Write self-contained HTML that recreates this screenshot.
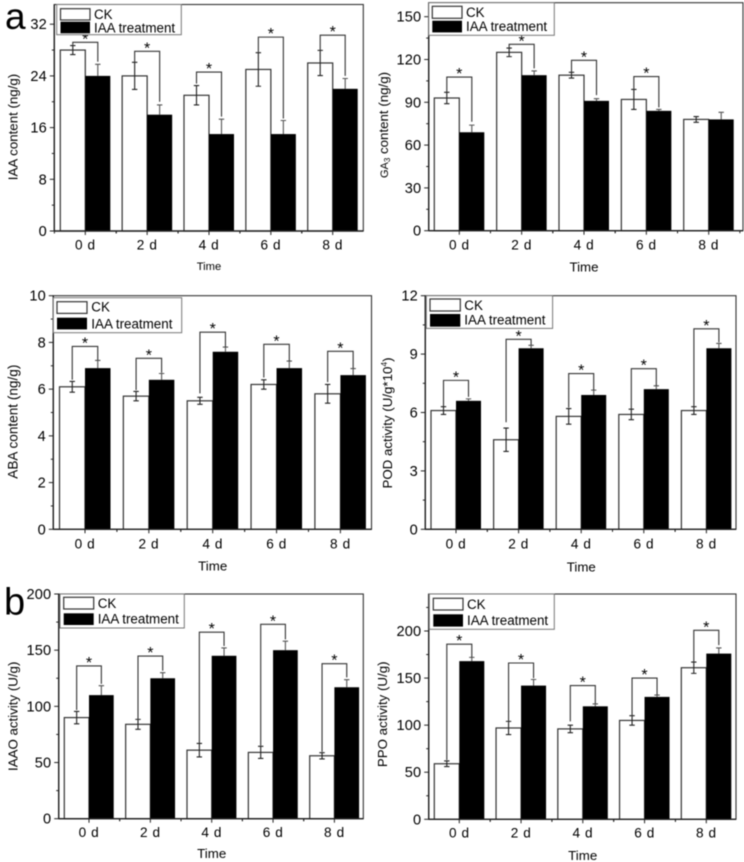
<!DOCTYPE html>
<html lang="en">
<head>
<meta charset="utf-8">
<title>Hormone content and enzyme activity charts</title>
<style>
html,body{margin:0;padding:0;background:#fff;}
svg{display:block;filter:blur(0.4px);}
text{font-family:"Liberation Sans",sans-serif;fill:#000;}
.tick{font-size:14.6px;letter-spacing:.1px;}
.cat{font-size:13.6px;letter-spacing:.6px;}
.leg{font-size:13.4px;}
.ttl{font-size:13.3px;}
.star{font-size:16px;}
</style>
</head>
<body>
<svg id="figure" width="744" height="862" viewBox="0 0 744 862" xmlns="http://www.w3.org/2000/svg">
<rect x="0" y="0" width="744" height="862" fill="#fff"/>

<g id="panel-iaa">
  <g class="marks"></g>
  <g>
    <rect x="56.7" y="4.5" width="124.6" height="30.2" fill="#fff" stroke="#777" stroke-width="1"/>
    <rect x="60.5" y="8.7" width="29.5" height="11.3" fill="#fff" stroke="#333" stroke-width="1.2"/>
    <rect x="60.5" y="21.7" width="29.5" height="11.6" fill="#000"/>
    <text class="leg" x="94" y="19">CK</text>
    <text class="leg" x="94" y="32.5">IAA treatment</text>
  </g>
  <text class="ttl" transform="translate(17.5,127) rotate(-90)" text-anchor="middle">IAA content (ng/g)</text>
  <text class="ttl" style="font-size:11.2px" x="209" y="270" text-anchor="middle">Time</text>
</g>

<g id="panel-ga">
  <g class="marks"></g>
  <g>
    <rect x="428.7" y="2.7" width="125.6" height="32.6" fill="#fff" stroke="#777" stroke-width="1"/>
    <rect x="432.3" y="6.3" width="29.7" height="12" fill="#fff" stroke="#333" stroke-width="1.2"/>
    <rect x="432.3" y="20.7" width="29.7" height="11.7" fill="#000"/>
    <text class="leg" x="466" y="17">CK</text>
    <text class="leg" x="466" y="31">IAA treatment</text>
  </g>
  <text class="ttl" transform="translate(388,125) rotate(-90)" text-anchor="middle"><tspan font-size="11">GA</tspan><tspan font-size="8" dy="2">3</tspan><tspan dy="-2"> content (ng/g)</tspan></text>
  <text class="ttl" x="584" y="271.7" text-anchor="middle">Time</text>
</g>

<g id="panel-aba">
  <g class="marks"></g>
  <g>
    <rect x="53.3" y="297.7" width="128.4" height="35" fill="#fff" stroke="#777" stroke-width="1"/>
    <rect x="57" y="301.7" width="30" height="11.7" fill="#fff" stroke="#333" stroke-width="1.2"/>
    <rect x="57" y="317.7" width="30" height="11.7" fill="#000"/>
    <text class="leg" x="91.3" y="311.7">CK</text>
    <text class="leg" x="91.3" y="328.3">IAA treatment</text>
  </g>
  <text class="ttl" style="font-size:13.6px" transform="translate(17.5,421.7) rotate(-90)" text-anchor="middle">ABA content (ng/g)</text>
  <text class="ttl" x="212.7" y="570.7" text-anchor="middle">Time</text>
</g>

<g id="panel-pod">
  <g class="marks"></g>
  <g>
    <rect x="426.3" y="295.7" width="126.3" height="32.7" fill="#fff" stroke="#777" stroke-width="1"/>
    <rect x="430" y="299" width="30.3" height="12" fill="#fff" stroke="#333" stroke-width="1.2"/>
    <rect x="430" y="314" width="30.3" height="12.7" fill="#000"/>
    <text class="leg" x="464.3" y="310">CK</text>
    <text class="leg" x="464.3" y="324.7">IAA treatment</text>
  </g>
  <text class="ttl" transform="translate(392,423) rotate(-90)" text-anchor="middle">POD activity (U/g*10<tspan font-size="8.5" dy="-5">4</tspan><tspan dy="5">)</tspan></text>
  <text class="ttl" x="581.3" y="571.7" text-anchor="middle">Time</text>
</g>

<g id="panel-iaao">
  <g class="marks"></g>
  <g>
    <rect x="60" y="594" width="124.3" height="34" fill="#fff" stroke="#777" stroke-width="1"/>
    <rect x="63.7" y="597.3" width="30" height="11.7" fill="#fff" stroke="#333" stroke-width="1.2"/>
    <rect x="63.7" y="613.3" width="30" height="11.7" fill="#000"/>
    <text class="leg" x="97.7" y="608">CK</text>
    <text class="leg" x="97.7" y="623.7">IAA treatment</text>
  </g>
  <text class="ttl" transform="translate(17.5,716.3) rotate(-90)" text-anchor="middle">IAAO activity (U/g)</text>
  <text class="ttl" x="211.7" y="858" text-anchor="middle">Time</text>
</g>

<g id="panel-ppo">
  <g class="marks"></g>
  <g>
    <rect x="429.3" y="594" width="125" height="35.3" fill="#fff" stroke="#777" stroke-width="1"/>
    <rect x="433.3" y="598.3" width="29.7" height="11.7" fill="#fff" stroke="#333" stroke-width="1.2"/>
    <rect x="433.3" y="614.3" width="29.7" height="12.3" fill="#000"/>
    <text class="leg" x="467" y="609">CK</text>
    <text class="leg" x="467" y="625">IAA treatment</text>
  </g>
  <text class="ttl" transform="translate(387,714.3) rotate(-90)" text-anchor="middle">PPO activity (U/g)</text>
  <text class="ttl" x="582.7" y="860" text-anchor="middle">Time</text>
</g>

<text x="5" y="29" style="font-size:37px;fill:#000">a</text>
<text x="4" y="614.5" style="font-size:38px;fill:#000">b</text>
</svg>

<script>
// Shared category labels
const timeLabels = ['0 d', '2 d', '4 d', '6 d', '8 d'];

// IAA content (ng/g)
const iaaTicks = [0, 8, 16, 24, 32];
const iaaCK = [28, 24, 21, 25, 26];
const iaaTreated = [24, 18, 15, 15, 22];
const iaaCKErr = [0.7, 2.1, 1.5, 2.6, 1.95];
const iaaTreatedErr = [1.8, 1.5, 2.3, 2.1, 1.6];
const iaaBracketTop = [29.2, 27.8, 24.6, 30, 30.3];
const iaaBracketLeft = [28.8, 26.1, 22.8, 27.7, 28];
const iaaBracketRight = [26.2, 20, 17.7, 17.4, 24];

// GA3 content (ng/g)
const gaTicks = [0, 30, 60, 90, 120, 150];
const gaCK = [93, 125, 109, 92, 78];
const gaTreated = [69, 109, 91, 84, 78];
const gaCKErr = [4, 3, 2, 7, 2];
const gaTreatedErr = [5, 3, 1.5, 1, 5];
const gaBracketTop = [107.7, 130.6, 119.4, 108, null];
const gaBracketLeft = [97, 128, 111, 99, null];
const gaBracketRight = [76.4, 113.8, 95, 86.4, null];

// ABA content (ng/g)
const abaTicks = [0, 2, 4, 6, 8, 10];
const abaCK = [6.1, 5.7, 5.5, 6.2, 5.8];
const abaTreated = [6.9, 6.4, 7.6, 6.9, 6.6];
const abaCKErr = [0.23, 0.2, 0.15, 0.2, 0.4];
const abaTreatedErr = [0.33, 0.27, 0.2, 0.3, 0.28];
const abaBracketTop = [7.83, 7.32, 8.44, 7.92, 7.62];
const abaBracketLeft = [6.4, 5.96, 5.82, 6.5, 6.3];
const abaBracketRight = [7.25, 6.7, 7.8, 7.2, 6.9];

// POD activity (U/g*10^4)
const podTicks = [0, 3, 6, 9, 12];
const podCK = [6.1, 4.6, 5.8, 5.9, 6.1];
const podTreated = [6.6, 9.3, 6.9, 7.2, 9.3];
const podCKErr = [0.2, 0.6, 0.4, 0.27, 0.2];
const podTreatedErr = [0.1, 0.15, 0.25, 0.17, 0.25];
const podBracketTop = [7.65, 9.76, 8.0, 8.25, 10.3];
const podBracketLeft = [6.3, 5.5, 6.25, 6.18, 6.27];
const podBracketRight = [6.8, 9.47, 7.14, 7.38, 9.6];

// IAAO activity (U/g)
const iaaoTicks = [0, 50, 100, 150, 200];
const iaaoCK = [90, 84, 61, 59, 56];
const iaaoTreated = [110, 125, 145, 150, 117];
const iaaoCKErr = [5.5, 4.4, 6, 5.4, 2.8];
const iaaoTreatedErr = [8.4, 5, 7, 8, 6.7];
const iaaoBracketTop = [136, 144.8, 166, 173, 138];
const iaaoBracketLeft = [96.7, 88, 67, 65, 59.6];
const iaaoBracketRight = [120, 131.7, 153.7, 159.6, 125.8];

// PPO activity (U/g)
const ppoTicks = [0, 50, 100, 150, 200];
const ppoCK = [59, 97, 96, 105, 161];
const ppoTreated = [168, 142, 120, 130, 176];
const ppoCKErr = [3, 7, 4, 5, 6];
const ppoTreatedErr = [4, 6.5, 2.5, 2, 6];
const ppoBracketTop = [186, 166, 142, 150, 200.7];
const ppoBracketLeft = [63, 102, 104, 108, 167];
const ppoBracketRight = [172, 150, 123, 132, 185];

const NS = 'http://www.w3.org/2000/svg';

function make(parent, tag, attrs, text) {
  const el = document.createElementNS(NS, tag);
  for (const k in attrs) el.setAttribute(k, attrs[k]);
  if (text !== undefined) el.textContent = text;
  parent.appendChild(el);
  return el;
}

function drawPanel(id, frame, ticks, ck, treated, ckErr, treatedErr, bTop, bLeft, bRight) {
  const g = document.querySelector('#' + id + ' .marks');
  const xPos = i => frame.firstX + i * frame.step;
  const yPos = v => frame.bottom - v * (frame.bottom - frame.top) / frame.yMax;
  const ink = '#222';

  const box = make(g, 'rect', {x: frame.left, y: frame.top, width: frame.right - frame.left, height: frame.bottom - frame.top, fill: 'none', stroke: '#333', 'stroke-width': 1.1});
  
  

  // CK bars, with error bars showing on both sides of the bar top
  ck.forEach((v, i) => {
    const bar = make(g, 'rect', {x: xPos(i) - frame.bar, y: yPos(v), width: frame.bar, height: frame.bottom - yPos(v), fill: '#fff', stroke: '#333', 'stroke-width': 1.2});
    
    
    const cx = xPos(i) - frame.bar / 2;
    const e = ckErr[i];
    const d = 'M' + cx + ' ' + yPos(v - e) + 'V' + yPos(v + e) +
      'M' + (cx - 2.7) + ' ' + yPos(v + e) + 'h5.4' +
      'M' + (cx - 2.7) + ' ' + yPos(v - e) + 'h5.4';
    const p = make(g, 'path', {d: d, fill: 'none', stroke: ink, 'stroke-width': 1.1});
    
    
  });

  // Treated bars; the lower half of each error bar is lost in the solid black fill
  treated.forEach((v, i) => {
    const cx = xPos(i) + frame.bar / 2;
    const e = treatedErr[i];
    const d = 'M' + cx + ' ' + yPos(v) + 'V' + yPos(v + e) +
      'M' + (cx - 2.7) + ' ' + yPos(v + e) + 'h5.4';
    const p = make(g, 'path', {d: d, fill: 'none', stroke: '#555', 'stroke-width': 1.1});
    
    
    const bar = make(g, 'rect', {x: xPos(i), y: yPos(v), width: frame.bar, height: frame.bottom - yPos(v), fill: '#000'});
    
    
  });

  // significance brackets
  bTop.forEach((t, i) => {
    if (t === null) return;
    const xl = xPos(i) - frame.bar / 2;
    const xr = xPos(i) + frame.bar / 2;
    const d = 'M' + xl + ' ' + yPos(bLeft[i]) + 'V' + yPos(t) + 'H' + xr + 'V' + yPos(bRight[i]);
    const p = make(g, 'path', {d: d, fill: 'none', stroke: '#333', 'stroke-width': 1.1});
    
    
    const s = make(g, 'text', {class: 'star', x: xPos(i), y: yPos(t) + 2, 'text-anchor': 'middle'}, '*');
    
    
  });

  // axes
  const yAxis = make(g, 'line', {x1: frame.left, x2: frame.left, y1: frame.top, y2: frame.bottom, stroke: ink, 'stroke-width': 1.4});
  
  
  const xAxis = make(g, 'line', {x1: frame.left, x2: frame.right, y1: frame.bottom, y2: frame.bottom, stroke: ink, 'stroke-width': 1.4});
  
  

  // y ticks
  const major = ticks[1] - ticks[0];
  for (let v = 0; v <= frame.yMax + 1e-6; v += major / 2) {
    const isMajor = Math.abs(v / major - Math.round(v / major)) < 1e-6;
    const t = make(g, 'line', {x1: frame.left - (isMajor ? 4.5 : 2.5), x2: frame.left, y1: yPos(v), y2: yPos(v), stroke: ink, 'stroke-width': 1});
    
    
  }
  ticks.forEach(v => {
    const t = make(g, 'text', {class: 'tick', x: frame.left - 7.5, y: yPos(v) + 5, 'text-anchor': 'end'}, String(v));
    
    
  });

  // x ticks
  timeLabels.forEach((label, i) => {
    const t = make(g, 'line', {x1: xPos(i), x2: xPos(i), y1: frame.bottom, y2: frame.bottom + 4, stroke: ink, 'stroke-width': 1});
    
    
    [-0.5, 0.5].forEach(off => {
      const mx = xPos(i) + off * frame.step;
      if (mx <= frame.left || mx >= frame.right) return;
      const m = make(g, 'line', {x1: mx, x2: mx, y1: frame.bottom, y2: frame.bottom + 2.5, stroke: ink, 'stroke-width': 1});
      
      
    });
    const l = make(g, 'text', {class: 'cat', x: xPos(i), y: frame.labelY, 'text-anchor': 'middle'}, label);
    
    
  });
}

drawPanel('panel-iaa', {left: 54.3, right: 363.3, top: 4.5, bottom: 231, yMax: 35.05, firstX: 85.3, step: 61.85, bar: 25, labelY: 249.5},
  iaaTicks, iaaCK, iaaTreated, iaaCKErr, iaaTreatedErr, iaaBracketTop, iaaBracketLeft, iaaBracketRight);
drawPanel('panel-ga', {left: 428.7, right: 743, top: 2.7, bottom: 230.7, yMax: 159.8, firstX: 459.3, step: 62.35, bar: 25, labelY: 249.3},
  gaTicks, gaCK, gaTreated, gaCKErr, gaTreatedErr, gaBracketTop, gaBracketLeft, gaBracketRight);
drawPanel('panel-aba', {left: 53.3, right: 371.5, top: 295.7, bottom: 529.3, yMax: 10, firstX: 85, step: 63.85, bar: 25.5, labelY: 548.5},
  abaTicks, abaCK, abaTreated, abaCKErr, abaTreatedErr, abaBracketTop, abaBracketLeft, abaBracketRight);
drawPanel('panel-pod', {left: 425.3, right: 736, top: 295.7, bottom: 529.3, yMax: 12, firstX: 456, step: 62.6, bar: 25, labelY: 548.5},
  podTicks, podCK, podTreated, podCKErr, podTreatedErr, podBracketTop, podBracketLeft, podBracketRight);
drawPanel('panel-iaao', {left: 58.7, right: 363.3, top: 594, bottom: 818.7, yMax: 200, firstX: 89, step: 61.35, bar: 24.7, labelY: 837},
  iaaoTicks, iaaoCK, iaaoTreated, iaaoCKErr, iaaoTreatedErr, iaaoBracketTop, iaaoBracketLeft, iaaoBracketRight);
drawPanel('panel-ppo', {left: 428.7, right: 736, top: 594, bottom: 819.3, yMax: 239.3, firstX: 459.3, step: 61.75, bar: 25, labelY: 837.5},
  ppoTicks, ppoCK, ppoTreated, ppoCKErr, ppoTreatedErr, ppoBracketTop, ppoBracketLeft, ppoBracketRight);
</script>
</body>
</html>
